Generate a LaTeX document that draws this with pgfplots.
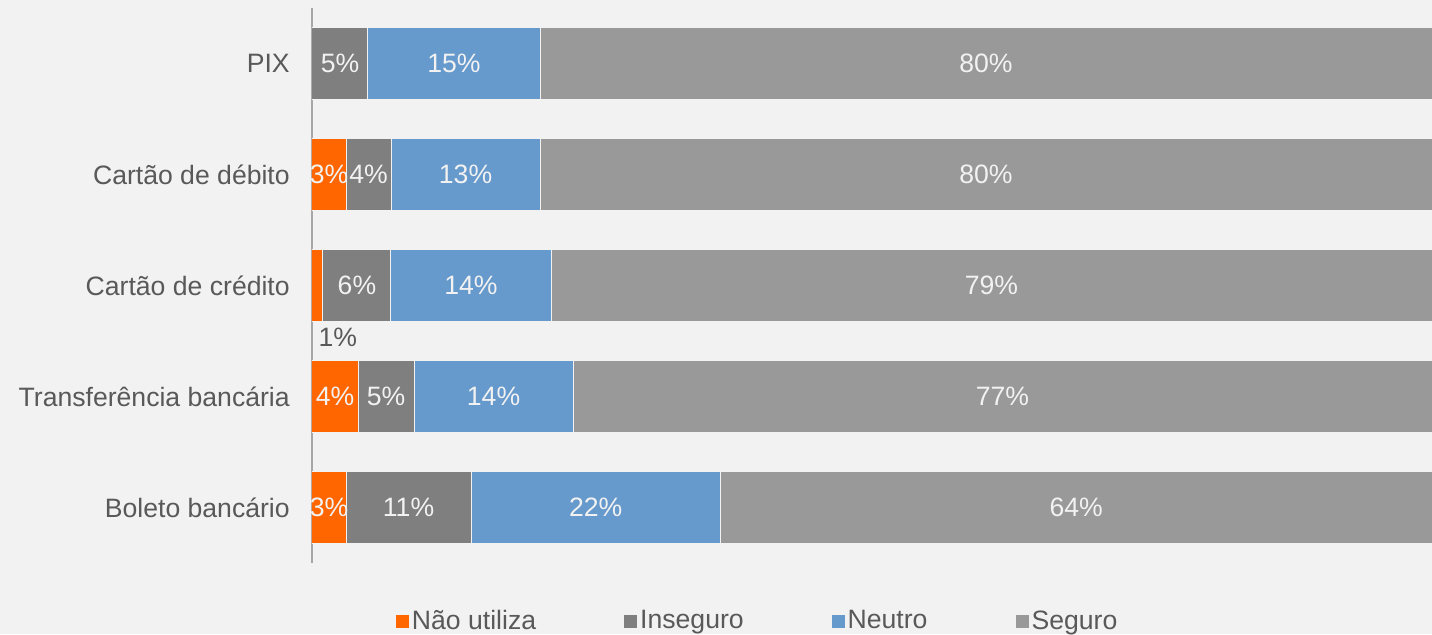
\documentclass[border=0pt]{standalone}
\usepackage{fontspec}
\setmainfont{Liberation Sans}
\usepackage{pgfplots}
\usepackage{pgfplotstable}
\pgfplotsset{compat=1.18}
\definecolor{bg}{HTML}{F2F2F2}
\definecolor{cnao}{HTML}{FF6600}
\definecolor{cins}{HTML}{7F7F7F}
\definecolor{cneu}{HTML}{6699CC}
\definecolor{cseg}{HTML}{999999}
\definecolor{txt}{HTML}{595959}
\definecolor{axgray}{HTML}{A6A6A6}
\pgfplotstableread{
cat nao inseguro neutro seguro
0 3.04 11.16 22.25 63.55
1 4.11 5.0 14.2 76.69
2 0.98 6.07 14.29 78.66
3 3.04 4.02 13.3 79.64
4 0 5.0 15.36 79.64
}\data
\begin{document}
\begin{tikzpicture}[font=\fontsize{13.3}{16}\selectfont]
\useasboundingbox (0,0) rectangle (716pt,317pt);
\fill[bg] (0,0) rectangle (716pt,317pt);
\begin{axis}[
  at={(156pt,35.5pt)}, anchor=south west,
  scale only axis, width=560pt, height=277.5pt,
  xbar stacked, bar width=36pt,
  xmin=0, xmax=100, ymin=-0.5, ymax=4.5,
  enlarge y limits=false,
  axis x line=none, axis y line*=left,
  y axis line style={-, draw=axgray, line width=0.8pt},
  major tick length=0pt,
  ytick={0,...,4},
  yticklabels={Boleto bancário, Transferência bancária, Cartão de crédito, Cartão de débito, PIX},
  yticklabel style={text=txt, xshift=-7.6pt},
  legend columns=4,
  legend style={at={(0.075,-0.105)}, anchor=west, draw=none, fill=none,
    inner sep=0pt, outer sep=0pt, text=txt, nodes={inner xsep=1.5pt},
    column sep=0pt,
    /tikz/every even column/.append style={column sep=42.5pt}},
  legend image code/.code={\fill[#1,draw=none] (0pt,-3.25pt) rectangle (6.5pt,3.25pt);},
  every axis plot/.append style={draw=bg, line width=0.5pt},
  nodes near coords={\makebox[0pt][c]{\ifdim\val pt>1.5pt\relax\pgfmathprintnumber[fixed,precision=0,assume math mode=true]{\val}\%\fi}},
  every node near coord/.append style={inner xsep=0pt, text=bg},
]
\addplot[fill=cnao, visualization depends on={\thisrow{nao} \as \val}] table[x=nao, y=cat] {\data};
\addlegendentry{Não utiliza}
\addplot[fill=cins, visualization depends on={\thisrow{inseguro} \as \val}] table[x=inseguro, y=cat] {\data};
\addlegendentry{Inseguro}
\addplot[fill=cneu, visualization depends on={\thisrow{neutro} \as \val}] table[x=neutro, y=cat] {\data};
\addlegendentry{Neutro}
\addplot[fill=cseg, visualization depends on={\thisrow{seguro} \as \val}] table[x=seguro, y=cat] {\data};
\addlegendentry{Seguro}
\node[text=txt] at (axis cs:2.3,1.53) {1\%};
\end{axis}
\end{tikzpicture}
\end{document}
